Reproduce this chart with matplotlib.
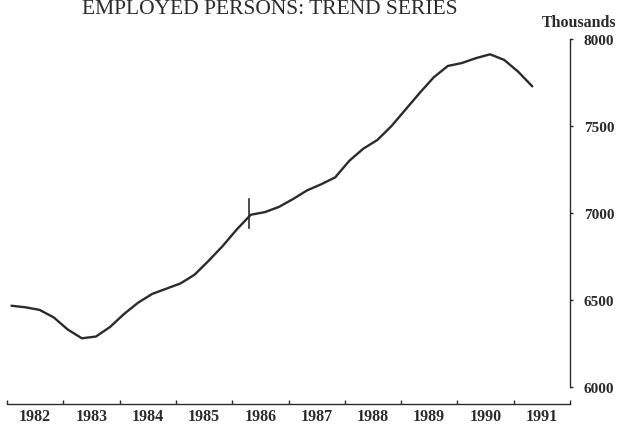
import matplotlib.pyplot as plt

# Trend series, employed persons (thousands) at quarterly steps
years = [1982.08, 1982.33, 1982.58, 1982.83, 1983.08, 1983.33, 1983.58, 1983.83,
         1984.08, 1984.33, 1984.58, 1984.83, 1985.08, 1985.33, 1985.58, 1985.83,
         1986.08, 1986.33, 1986.58, 1986.83, 1987.08, 1987.33, 1987.58, 1987.83,
         1988.08, 1988.33, 1988.58, 1988.83, 1989.08, 1989.33, 1989.58, 1989.83,
         1990.08, 1990.33, 1990.58, 1990.83, 1991.08, 1991.33]
employed = [6467, 6458, 6443, 6400, 6330, 6280, 6290, 6345,
            6420, 6485, 6535, 6565, 6595, 6645, 6725, 6810,
            6905, 6990, 7005, 7035, 7080, 7130, 7165, 7205,
            7300, 7370, 7420, 7500, 7595, 7690, 7780, 7845,
            7862, 7890, 7912, 7880, 7812, 7728]

# series break marker
break_year = 1986.29
break_lo, break_hi = 6914, 7080

year_edges = list(range(1982, 1993))
year_labels = [str(y) for y in range(1982, 1992)]
y_ticks = [6000, 6500, 7000, 7500, 8000]

ink = '#2b2b2b'
serif = 'Liberation Serif'

fig = plt.figure(figsize=(6.27, 4.27), dpi=100)
# axes in figure pixels: x 7..570, y 405 (bottom) .. 40 (top)
W, H = 627, 427
ax = fig.add_axes([7 / W, (H - 405) / H, (570 - 7) / W, (405 - 40) / H])

ax.plot(years, employed, color=ink, lw=1.7, solid_joinstyle='round',
        solid_capstyle='round')
ax.plot([break_year, break_year], [break_lo, break_hi], color=ink, lw=1.2)

ax.set_xlim(1982, 1992)
ax.set_ylim(6000 - 17 / 0.174, 8000)

for s in ['left', 'top']:
    ax.spines[s].set_visible(False)
ax.spines['bottom'].set_color(ink)
ax.spines['right'].set_color(ink)
ax.spines['bottom'].set_linewidth(1.0)
ax.spines['right'].set_linewidth(1.0)
ax.spines['right'].set_bounds(6000, 8000)

# x: ticks at year boundaries, labels centred in each year
ax.set_xticks(year_edges)
ax.set_xticklabels([])
ax.tick_params(axis='x', which='major', direction='in', length=3, width=1, color=ink)
ax.set_xticks([y + 0.5 for y in range(1982, 1992)], minor=True)
ax.set_xticklabels(year_labels, minor=True, fontfamily=serif, fontweight='bold',
                   fontsize=11.5, color=ink)
ax.tick_params(axis='x', which='minor', length=0, pad=3)

ax.yaxis.tick_right()
ax.set_yticks(y_ticks)
ax.set_yticklabels([str(v) for v in y_ticks], fontfamily=serif, fontweight='bold',
                   fontsize=11, color=ink)
ax.tick_params(axis='y', direction='out', length=2, width=1, color=ink, pad=8)

fig.text(579 / W, 1 - 23 / H, 'Thousands', ha='center', va='center',
         fontfamily=serif, fontweight='bold', fontsize=11.5, color=ink)
fig.text(270 / W, 1 - 14 / H, 'EMPLOYED PERSONS: TREND SERIES', ha='center',
         va='baseline', fontfamily=serif, fontsize=15.5, color=ink)

fig.savefig('out.png', dpi=100, facecolor='white')
